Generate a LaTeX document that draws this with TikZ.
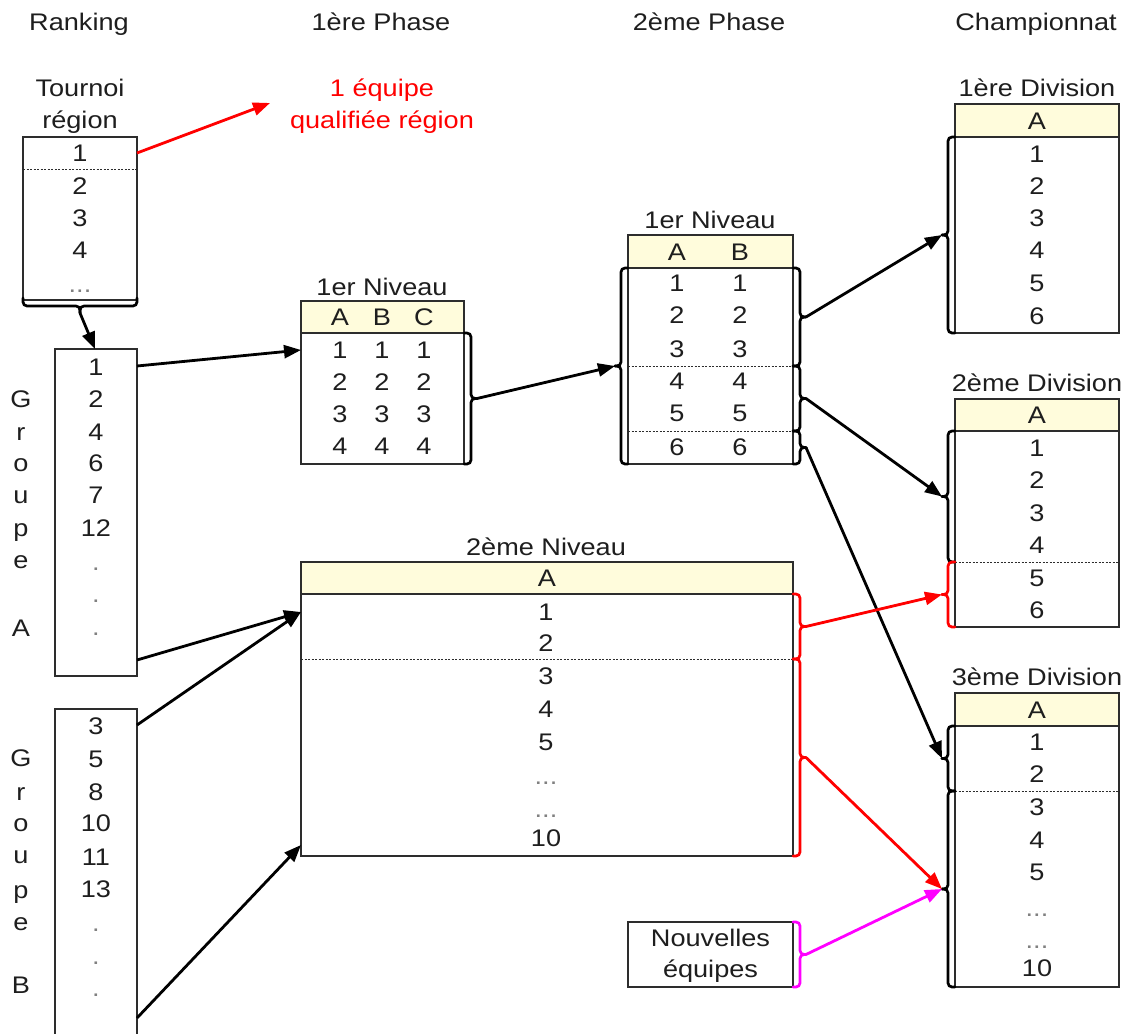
\documentclass[tikz,border=0pt]{standalone}
\usepackage{fontspec}
\setmainfont{Liberation Sans}[FakeStretch=1.13]
\usetikzlibrary{arrows.meta}
\definecolor{headfill}{RGB}{255,252,220}
\definecolor{ink}{RGB}{30,30,30}
\definecolor{frame}{RGB}{45,45,45}
\definecolor{magentaline}{RGB}{255,0,255}
% right brace: x, y1, y2, colour, name of tip
\newcommand{\braceR}[5]{%
  \draw[br,#4] (#1,#2) -- (#1+7,#2) -- (#1+7,{(#2+#3)/2}) -- (#1+13,{(#2+#3)/2});
  \draw[br,#4] (#1,#3) -- (#1+7,#3) -- (#1+7,{(#2+#3)/2}) -- (#1+13,{(#2+#3)/2});
  \coordinate (#5) at (#1+13,{(#2+#3)/2});}
\newcommand{\braceL}[5]{%
  \draw[br,#4] (#1,#2) -- (#1-7,#2) -- (#1-7,{(#2+#3)/2}) -- (#1-13,{(#2+#3)/2});
  \draw[br,#4] (#1,#3) -- (#1-7,#3) -- (#1-7,{(#2+#3)/2}) -- (#1-13,{(#2+#3)/2});
  \coordinate (#5) at (#1-13,{(#2+#3)/2});}
\begin{document}
\begin{tikzpicture}[x=1pt,y=-1pt,
  font=\fontsize{24}{28}\selectfont, text=ink,
  txt/.style={inner sep=0pt, outer sep=0pt, text height=17pt, text depth=0pt},
  dotlbl/.style={inner sep=0pt, outer sep=0pt, text=gray, anchor=base},
  tbox/.style={draw=frame, line width=1.5pt, inner sep=0pt, outer sep=0pt, fill=white,
               text height=17pt, text depth=0pt},
  hbox/.style={tbox, fill=headfill},
  sep/.style={draw=frame, line width=0.9pt, dash pattern=on 2pt off 1.5pt},
  arr/.style={line width=2.8pt, -{Triangle[length=17pt,width=13pt]}},
  br/.style={line width=2.7pt, rounded corners=4pt, line cap=round}]
\clip (0,0) rectangle (1136,1034);
\fill[white] (0,0) rectangle (1136,1034);

% column titles
\node[txt] (tRank) at (79,22) {Ranking};
\node[txt] (tP1) at (381,22) {1ère Phase};
\node[txt] (tP2) at (709,22) {2ème Phase};
\node[txt] (tCh) at (1036,22) {Championnat};

% ---------- Tournoi region ----------
\node[txt] (tourA) at (80,88) {Tournoi};
\node[txt] (tourB) at (80,120) {région};
\node[tbox, minimum width=114pt, minimum height=163pt] (tour) at (80,218.5) {};
\draw[sep] (23,169) -- (137,169);
\foreach \t/\y [count=\i] in {1/153,2/186,3/218,4/250}
  \node[txt] (tour-\i) at (80,\y) {\t};
\node[dotlbl] (tour-d) at (80,292) {...};
\draw[br] (23,298) -- (23,306) -- (80,306) -- (80,313);
\draw[br] (137,298) -- (137,306) -- (80,306) -- (80,313);
\coordinate (tourtip) at (80,313);

\node[txt, text=red] (qA) at (382,88) {1 équipe};
\node[txt, text=red] (qB) at (382,120) {qualifiée région};
\coordinate (qtip) at (270,103);
\draw[arr, red] (tour.east |- 0,153) -- (qtip);

% ---------- Groupe A ----------
\node[tbox, minimum width=82pt, minimum height=327pt] (ga) at (96,512.5) {};
\foreach \t/\y [count=\i] in {1/367,2/399,4/432,6/463,7/495,12/528}
  \node[txt] (ga-\i) at (96,\y) {\t};
\foreach \y [count=\i] in {570,602,635}
  \node[dotlbl] (ga-d\i) at (96,\y) {.};
\foreach \t/\y [count=\i] in {G/399,r/432,o/463,u/495,p/528,e/560,A/628}
  \node[txt] (gaL-\i) at (21,\y) {\t};

% ---------- Groupe B ----------
\node[tbox, minimum width=82pt, minimum height=336pt] (gb) at (96,877) {};
\foreach \t/\y [count=\i] in {3/726,5/759,8/792,10/823,11/857,13/889}
  \node[txt] (gb-\i) at (96,\y) {\t};
\foreach \y [count=\i] in {931,964,996}
  \node[dotlbl] (gb-d\i) at (96,\y) {.};
\foreach \t/\y [count=\i] in {G/758,r/792,o/823,u/855,p/890,e/922,B/985}
  \node[txt] (gbL-\i) at (21,\y) {\t};

% ---------- 1ere phase, 1er Niveau ----------
\node[txt] (p1t) at (382,287) {1er Niveau};
\node[hbox, minimum width=163pt, minimum height=32pt] (p1h) at (382.5,317) {};
\node[tbox, minimum width=163pt, minimum height=131pt] (p1b) at (382.5,398.5) {};
\foreach \c/\x in {A/340,B/382,C/424}{
  \node[txt] (p1h-\c) at (\x,317) {\c};
  \foreach \r/\y in {1/350,2/382,3/414,4/446}
    \node[txt] (p1-\c\r) at (\x,\y) {\r};
}
\braceR{464}{333}{464}{}{p1tip}

% ---------- 2eme phase, 1er Niveau ----------
\node[txt] (p2t) at (710,220) {1er Niveau};
\node[hbox, minimum width=165pt, minimum height=33pt] (p2h) at (710.5,251.5) {};
\node[tbox, minimum width=165pt, minimum height=196pt] (p2b) at (710.5,366) {};
\draw[sep] (628,366) -- (793,366);
\draw[sep] (628,431) -- (793,431);
\foreach \c/\x in {A/677,B/740}{
  \node[txt] (p2h-\c) at (\x,251.5) {\c};
  \foreach \r/\y in {1/283,2/315,3/349,4/381,5/413,6/447}
    \node[txt] (p2-\c\r) at (\x,\y) {\r};
}
\braceL{628}{268}{464}{}{p2in}
\braceR{793}{268}{366}{}{p2outA}
\braceR{793}{366}{431}{}{p2outB}
\braceR{793}{431}{464}{}{p2outC}

% ---------- 2eme Niveau ----------
\node[txt] (n2t) at (546,547) {2ème Niveau};
\node[hbox, minimum width=492pt, minimum height=32pt] (n2h) at (547,578) {A};
\node[tbox, minimum width=492pt, minimum height=262pt] (n2b) at (547,725) {};
\draw[sep] (301,659) -- (793,659);
\foreach \t/\y [count=\i] in {1/612,2/643,3/676,4/709,5/742,10/838}
  \node[txt] (n2-\i) at (546,\y) {\t};
\node[dotlbl] (n2-d1) at (546,784) {...};
\node[dotlbl] (n2-d2) at (546,817) {...};
\braceR{793}{594}{659}{red}{n2outA}
\braceR{793}{659}{856}{red}{n2outB}

% ---------- Nouvelles equipes ----------
\node[tbox, minimum width=165pt, minimum height=65pt] (nv) at (710.5,954.5) {};
\node[txt] (nvA) at (710.5,938) {Nouvelles};
\node[txt] (nvB) at (710.5,969) {équipes};
\braceR{793}{922}{987}{magentaline}{nvout}

% ---------- 1ere Division ----------
\node[txt] (d1t) at (1037,88) {1ère Division};
\node[hbox, minimum width=164pt, minimum height=33pt] (d1h) at (1037,120.5) {A};
\node[tbox, minimum width=164pt, minimum height=196pt] (d1b) at (1037,235) {};
\foreach \t/\y in {1/154,2/186,3/218,4/250,5/283,6/316}
  \node[txt] (d1-\t) at (1037,\y) {\t};
\braceL{955}{137}{333}{}{d1in}

% ---------- 2eme Division ----------
\node[txt] (d2t) at (1037,383) {2ème Division};
\node[hbox, minimum width=164pt, minimum height=32pt] (d2h) at (1037,415) {A};
\node[tbox, minimum width=164pt, minimum height=196pt] (d2b) at (1037,529) {};
\draw[sep] (955,562) -- (1119,562);
\foreach \t/\y in {1/448,2/480,3/513,4/545,5/578,6/610}
  \node[txt] (d2-\t) at (1037,\y) {\t};
\braceL{955}{431}{562}{}{d2inA}
\braceL{955}{562}{627}{red}{d2inB}

% ---------- 3eme Division ----------
\node[txt] (d3t) at (1037,677) {3ème Division};
\node[hbox, minimum width=164pt, minimum height=33pt] (d3h) at (1037,709.5) {A};
\node[tbox, minimum width=164pt, minimum height=261pt] (d3b) at (1037,856.5) {};
\draw[sep] (955,791) -- (1119,791);
\foreach \t/\y [count=\i] in {1/742,2/774,3/807,4/840,5/872,10/968}
  \node[txt] (d3-\i) at (1037,\y) {\t};
\node[dotlbl] (d3-d1) at (1037,916) {...};
\node[dotlbl] (d3-d2) at (1037,948) {...};
\braceL{955}{726}{791}{}{d3inA}
\braceL{955}{791}{987}{}{d3inB}

% ---------- connectors ----------
\draw[arr] (tourtip) -- (ga.north -| 95,0);
\draw[arr] (ga.east |- 0,366) -- (p1b.west |- 0,350);
\draw[arr] (ga.east |- 0,660) -- (n2b.west |- 0,612);
\draw[arr] (gb.east |- 0,725) -- (n2b.west |- 0,612);
\draw[arr] (gb.east |- 0,1018) -- (n2b.west |- 0,845);
\draw[arr] (p1tip) -- (p2in);
\draw[arr] (p2outA) -- (d1in);
\draw[arr] (p2outB) -- (d2inA);
\draw[arr] (p2outC) -- (d3inA);
\draw[arr, red] (n2outA) -- (d2inB);
\draw[arr, red] (n2outB) -- (d3inB);
\draw[arr, magentaline] (nvout) -- (d3inB);
\end{tikzpicture}
\end{document}
